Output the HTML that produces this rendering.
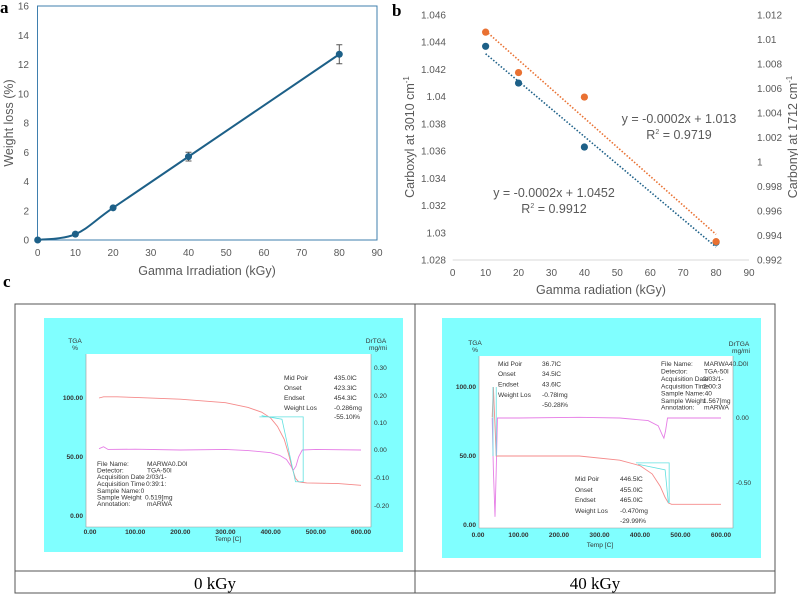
<!DOCTYPE html>
<html><head><meta charset="utf-8"><style>
body{margin:0;background:#fff;}
svg{display:block;font-family:"Liberation Sans",Arial,sans-serif;}
.tk{font-size:10px;fill:#595959;}
.tt{font-size:12.5px;fill:#595959;}
.sm{font-size:6.6px;fill:#333;}
.lb{font-family:"Liberation Serif",serif;font-weight:bold;font-size:17px;fill:#000;}
</style></head><body>
<svg id="fig" width="798" height="594" viewBox="0 0 798 594" xmlns="http://www.w3.org/2000/svg">
<text class="lb" x="0" y="13">a</text>
<text class="lb" x="392" y="16">b</text>
<text class="lb" x="3" y="287">c</text>
<g id="pa"></g>
<g id="pb"></g>
<g id="pc">
<rect x="15" y="304" width="760" height="289" fill="none" stroke="#555" stroke-width="1"/>
<line x1="15" y1="571" x2="775" y2="571" stroke="#555"/>
<line x1="415" y1="304" x2="415" y2="593" stroke="#555"/>
<text x="215" y="589" text-anchor="middle" font-family="Liberation Serif,serif" font-size="17">0 kGy</text>
<text x="595" y="589" text-anchor="middle" font-family="Liberation Serif,serif" font-size="17">40 kGy</text>
<rect x="44" y="318" width="359" height="234" fill="#80ffff"/>
<rect x="86" y="354" width="285" height="173" fill="#fff"/>
<rect x="442" y="318" width="319" height="240" fill="#80ffff"/>
<rect x="479" y="356" width="254" height="172" fill="#fff"/>
<g class="sm">
<text x="75" y="343" text-anchor="middle">TGA</text><text x="75" y="350" text-anchor="middle">%</text>
<text x="376" y="343" text-anchor="middle">DrTGA</text><text x="378" y="350" text-anchor="middle">mg/mi</text>
<text x="284" y="380">Mid Poir</text><text x="334" y="380">435.0lC</text>
<text x="284" y="390">Onset</text><text x="334" y="390">423.3lC</text>
<text x="284" y="400">Endset</text><text x="334" y="400">454.3lC</text>
<text x="284" y="410">Weight Los</text><text x="334" y="410">-0.286mg</text>
<text x="334" y="419">-55.10l%</text>
<text x="97" y="466">File Name:</text><text x="147" y="466">MARWA0.D0l</text>
<text x="97" y="472.5">Detector:</text><text x="147" y="472.5">TGA-50l</text>
<text x="97" y="479">Acquisition Date</text><text x="146" y="479">2/03/1-</text>
<text x="97" y="486">Acquisition Time</text><text x="146" y="486">0:39:1:</text>
<text x="97" y="493">Sample Name:0</text>
<text x="97" y="499.5">Sample Weight</text><text x="145" y="499.5">0.519[mg</text>
<text x="97" y="506">Annotation:</text><text x="147" y="506">mARWA</text>
<text x="475" y="345" text-anchor="middle">TGA</text><text x="475" y="352" text-anchor="middle">%</text>
<text x="739" y="346" text-anchor="middle">DrTGA</text><text x="741" y="353" text-anchor="middle">mg/mi</text>
<text x="498" y="366">Mid Poir</text><text x="542" y="366">36.7lC</text>
<text x="498" y="376">Onset</text><text x="542" y="376">34.5lC</text>
<text x="498" y="386.5">Endset</text><text x="542" y="386.5">43.6lC</text>
<text x="498" y="397">Weight Los</text><text x="542" y="397">-0.78lmg</text>
<text x="542" y="407">-50.28l%</text>
<text x="575" y="481">Mid Poir</text><text x="620" y="481">446.5lC</text>
<text x="575" y="492">Onset</text><text x="620" y="492">455.0lC</text>
<text x="575" y="502">Endset</text><text x="620" y="502">465.0lC</text>
<text x="575" y="513">Weight Los</text><text x="620" y="513">-0.470mg</text>
<text x="620" y="523">-29.99l%</text>
<text x="661" y="366">File Name:</text><text x="704" y="366">MARWA40.D0l</text>
<text x="661" y="373.5">Detector:</text><text x="704" y="373.5">TGA-50l</text>
<text x="661" y="381">Acquisition Date</text><text x="703" y="381">2/03/1-</text>
<text x="661" y="388.5">Acquisition Time</text><text x="703" y="388.5">2:00:3</text>
<text x="661" y="395.5">Sample Name:40</text>
<text x="661" y="403">Sample Weight</text><text x="703" y="403">1.567[mg</text>
<text x="661" y="409.5">Annotation:</text><text x="704" y="409.5">mARWA</text>
<text x="228" y="541" text-anchor="middle">Temp  [C]</text>
<text x="600" y="547" text-anchor="middle">Temp  [C]</text>
</g>
</g>
</svg>
<script>
// ---- Panel a data ----
const aDose=[0,10,20,40,80];
const aLoss=[0,0.4,2.2,5.7,12.7];
const aErr=[0,0,0,0.3,0.65];
const aXTicks=[0,10,20,30,40,50,60,70,80,90];
const aYTicks=[0,2,4,6,8,10,12,14,16];
// ---- Panel b data ----
const bDose=[10,20,40,80];
const bCarboxyl=[1.0437,1.041,1.0363,1.0293];
const bCarbonyl=[1.0106,1.0073,1.0053,0.9935];
const bXTicks=[0,10,20,30,40,50,60,70,80,90];
const bLeftTicks=["1.028","1.03","1.032","1.034","1.036","1.038","1.04","1.042","1.044","1.046"];
const bRightTicks=["0.992","0.994","0.996","0.998","1","1.002","1.004","1.006","1.008","1.01","1.012"];
// ---- Panel c data ----
const c0Temp=[20,30,60,100,200,300,350,380,400,415,430,440,448,455,462,470,480,550,600];
const c0Tga=[100,101,101,100.5,99,96,92,88,83,76,65,52,40,32,29,28.5,28,27.5,26];
const c0DrTemp=[20,30,40,100,200,300,350,400,420,435,445,450,456,462,470,500,600];
const c0Dr=[0.005,0.012,0.002,0.003,0,0.002,-0.002,-0.01,-0.02,-0.035,-0.06,-0.075,-0.06,-0.025,0,0.002,0];
const c40Temp=[35,38,45,100,250,350,400,430,450,462,470,478,600];
const c40Tga=[78,100,50,50,50,47,43,37,28,20,16,15,15];
const c40DrTemp=[35,38,42,45,48,100,250,350,420,445,455,459,463,468,600];
const c40Dr=[0,-0.4,-0.76,-0.4,0,0,0.005,0,-0.02,-0.06,-0.13,-0.155,-0.1,0,0];
const c0Ticks=["0.00","100.00","200.00","300.00","400.00","500.00","600.00"];

const NS='http://www.w3.org/2000/svg';
function mk(tag,attrs,parent){const e=document.createElementNS(NS,tag);for(const k in attrs)e.setAttribute(k,attrs[k]);parent.appendChild(e);return e;}
function txt(s,attrs,parent){const e=mk('text',attrs,parent);e.textContent=s;return e;}
function spline(pts){let d='M'+pts[0][0]+','+pts[0][1];for(let i=0;i<pts.length-1;i++){const p0=pts[i-1]||pts[i],p1=pts[i],p2=pts[i+1],p3=pts[i+2]||p2;const t=0.5/3;d+=' C'+(p1[0]+(p2[0]-p0[0])*t)+','+(p1[1]+(p2[1]-p0[1])*t)+' '+(p2[0]-(p3[0]-p1[0])*t)+','+(p2[1]-(p3[1]-p1[1])*t)+' '+p2[0]+','+p2[1];}return d;}

// Panel a
const pa=document.getElementById('pa');
const xa=v=>37.7+v*(339.3/90), ya=v=>240-v*(234/16);
let el=mk('rect',{x:37.5,y:6,width:339.5,height:234,fill:'none',stroke:'#3f7fae','stroke-width':1},pa);


aXTicks.forEach(v=>{el=txt(String(v),{x:xa(v),y:256,'text-anchor':'middle',class:'tk'},pa);

});
aYTicks.forEach(v=>{el=txt(String(v),{x:29,y:ya(v)+3.5,'text-anchor':'end',class:'tk'},pa);

});
el=txt('Gamma Irradiation (kGy)',{x:207,y:275,'text-anchor':'middle',class:'tt'},pa);


el=txt('Weight loss (%)',{x:0,y:0,'text-anchor':'middle',class:'tt',transform:'translate(13,123) rotate(-90)'},pa);


el=mk('path',{d:spline(aDose.map((d,i)=>[xa(d),ya(aLoss[i])])),fill:'none',stroke:'#1d6088','stroke-width':2},pa);


aDose.forEach((d,i)=>{
 if(aErr[i]>0){const x=xa(d),y1=ya(aLoss[i]+aErr[i]),y2=ya(aLoss[i]-aErr[i]);
  el=mk('path',{d:`M${x},${y1}V${y2}M${x-3},${y1}H${x+3}M${x-3},${y2}H${x+3}`,stroke:'#555',fill:'none','stroke-width':1},pa);
  
  }
 el=mk('circle',{cx:xa(d),cy:ya(aLoss[i]),r:3.5,fill:'#1d6088'},pa);
 
 
});

// Panel b
const pb=document.getElementById('pb');
const xb=v=>452.7+v*(296.3/90), ybl=v=>260-(v-1.028)/0.018*245, ybr=v=>260-(v-0.992)/0.020*245;
el=mk('line',{x1:452.7,y1:260,x2:749,y2:260,stroke:'#d9d9d9'},pb);


bXTicks.forEach(v=>{el=txt(String(v),{x:xb(v),y:276,'text-anchor':'middle',class:'tk'},pb);

});
bLeftTicks.forEach(s=>{el=txt(s,{x:446,y:ybl(+s)+3.5,'text-anchor':'end',class:'tk'},pb);

});
bRightTicks.forEach(s=>{el=txt(s,{x:757,y:ybr(+s)+3.5,'text-anchor':'start',class:'tk'},pb);

});
el=txt('Gamma radiation (kGy)',{x:601,y:294,'text-anchor':'middle',class:'tt'},pb);


el=mk('text',{x:0,y:0,'text-anchor':'middle',class:'tt',transform:'translate(414,137) rotate(-90)'},pb);
el.innerHTML='Carboxyl at 3010 cm<tspan font-size="8" dy="-5">-1</tspan>';


el=mk('text',{x:0,y:0,'text-anchor':'middle',class:'tt',transform:'translate(797,137) rotate(-90)'},pb);
el.innerHTML='Carbonyl at 1712 cm<tspan font-size="8" dy="-5">-1</tspan>';


function fit(xs,ys){const n=xs.length,mx=xs.reduce((a,b)=>a+b)/n,my=ys.reduce((a,b)=>a+b)/n;let sxy=0,sxx=0;xs.forEach((x,i)=>{sxy+=(x-mx)*(ys[i]-my);sxx+=(x-mx)**2;});const m=sxy/sxx;return [m,my-m*mx];}
[[bCarboxyl,ybl,'#1d6088','b-carboxyl'],[bCarbonyl,ybr,'#e97132','b-carbonyl']].forEach(([ys,sc,col,nm])=>{
 const [m,c]=fit(bDose,ys);const x0=bDose[0],x1=bDose[bDose.length-1];
 el=mk('line',{x1:xb(x0),y1:sc(m*x0+c),x2:xb(x1),y2:sc(m*x1+c),stroke:col,'stroke-width':1.6,'stroke-dasharray':'1.5 1.8'},pb);
 
 
 bDose.forEach((d,i)=>{el=mk('circle',{cx:xb(d),cy:sc(ys[i]),r:3.6,fill:col},pb);
 
 });
});
el=txt('y = -0.0002x + 1.013',{x:679,y:123,'text-anchor':'middle',class:'tt'},pb);


el=mk('text',{x:679,y:139,'text-anchor':'middle',class:'tt'},pb);
el.innerHTML='R<tspan font-size="7" dy="-5">2</tspan><tspan dy="5"> = 0.9719</tspan>';


el=txt('y = -0.0002x + 1.0452',{x:554,y:197,'text-anchor':'middle',class:'tt'},pb);


el=mk('text',{x:554,y:213,'text-anchor':'middle',class:'tt'},pb);
el.innerHTML='R<tspan font-size="7" dy="-5">2</tspan><tspan dy="5"> = 0.9912</tspan>';



// Panel c
const pc=document.getElementById('pc');
function poly(xs,ys,fx,fy,col,nm){el=mk('polyline',{points:xs.map((x,i)=>fx(x)+','+fy(ys[i])).join(' '),fill:'none',stroke:col,'stroke-width':0.9},pc);
 
 }
function axesC(fx,x0,x1,yt,ytLabels,rt,rtLabels,top,bot,tlY){
 el=mk('path',{d:`M${x0},${top}V${bot}H${x1}V${top}`,fill:'none',stroke:'#999','stroke-width':0.6},pc);
 
 
 c0Ticks.forEach((s,i)=>{el=txt(s,{x:fx(i*100),y:tlY,'text-anchor':'middle',class:'sm','font-weight':'bold'},pc);
 
 });
 ytLabels.forEach((s,i)=>{el=txt(s,{x:x0-3,y:yt[i]+2,'text-anchor':'end',class:'sm','font-weight':'bold'},pc);
 
 });
 rtLabels.forEach((s,i)=>{el=txt(s,{x:x1+3,y:rt[i]+2,class:'sm'},pc);
 
 });
}
const xL=t=>90+t*(271/600), yLt=v=>516-v*1.18, yLd=v=>450-v*270;
axesC(xL,86,371,[yLt(100),yLt(50),yLt(0)],['100.00','50.00','0.00'],[368,396,423,450,478,506],['0.30','0.20','0.10','0.00','-0.10','-0.20'],354,527,534);
poly(c0DrTemp,c0Dr,xL,yLd,'#e67ee6','tga-0-drtga-curve');
poly(c0Temp,c0Tga,xL,yLt,'#f58a8a','tga-0-tga-curve');
el=mk('path',{d:`M${xL(375)},${yLt(84)}H${xL(472)}V${yLt(29)}H${xL(455)}L${xL(425)},${yLt(82)}L${xL(380)},${yLt(85)}`,fill:'none',stroke:'#60e0e0','stroke-width':0.8},pc);


const xR=t=>478+t*(243/600), yRt=v=>525-v*1.38, yRd=v=>418-v*130;
axesC(xR,479,733,[yRt(100),yRt(50),yRt(0)],['100.00','50.00','0.00'],[418,483],['0.00','-0.50'],356,528,537);
poly(c40DrTemp,c40Dr,xR,yRd,'#e67ee6','tga-40-drtga-curve');
poly(c40Temp,c40Tga,xR,yRt,'#f58a8a','tga-40-tga-curve');
el=mk('path',{d:`M${xR(37)},${yRt(100)}V${yRt(50)}M${xR(45)},${yRt(100)}V${yRt(50)}M${xR(390)},${yRt(45)}H${xR(472)}V${yRt(16)}M${xR(395)},${yRt(44)}L${xR(462)},${yRt(40)}L${xR(470)},${yRt(16)}`,fill:'none',stroke:'#60e0e0','stroke-width':0.8},pc);


</script>
</body></html>
